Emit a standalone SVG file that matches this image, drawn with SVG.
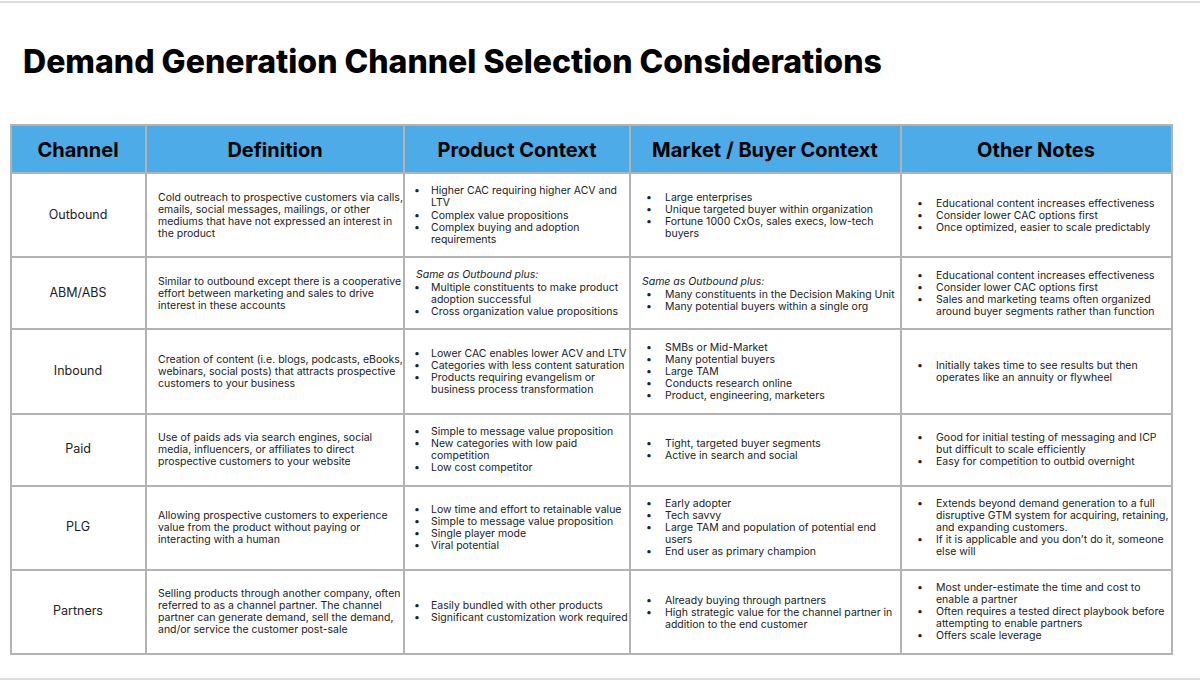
<svg xmlns="http://www.w3.org/2000/svg" width="1200" height="681" viewBox="0 0 1200 681">
<style>
.t{font-family:Inter,"Liberation Sans",sans-serif;font-size:10.5px;fill:#222}
.c{font-family:Inter,"Liberation Sans",sans-serif;font-size:12.5px;fill:#222;text-anchor:middle}
.h{font-family:Inter,"Liberation Sans",sans-serif;font-size:20px;font-weight:700;fill:#000;text-anchor:middle}
.i{font-style:italic}
.g{stroke:#b3b3b3;stroke-width:2;fill:none}
</style>
<rect width="1200" height="681" fill="#fff"/>
<line x1="0" y1="2" x2="1200" y2="2" stroke="#ddd" stroke-width="2"/>
<line x1="0" y1="679" x2="1200" y2="679" stroke="#ddd" stroke-width="2"/>
<text x="23" y="73" font-family="Inter,'Liberation Sans',sans-serif" font-size="32" font-weight="800" fill="#000">Demand Generation Channel Selection Considerations</text>
<g id="header">
<rect x="11" y="125" width="1161" height="48" fill="#4dabe8"/>
<text class="h" x="78" y="157">Channel</text>
<text class="h" x="275" y="157">Definition</text>
<text class="h" x="517" y="157">Product Context</text>
<text class="h" x="765" y="157">Market / Buyer Context</text>
<text class="h" x="1036" y="157">Other Notes</text>
</g>
<g id="grid" class="g">
<rect x="11" y="125" width="1161" height="529"/>
<path d="M146 125V654M404 125V654M630 125V654M901 125V654M11 173H1172M11 257H1172M11 329H1172M11 414H1172M11 486H1172M11 570H1172"/>
</g>
<g id="outbound">
<text class="c" x="78" y="219">Outbound</text>
<text class="t"><tspan x="158" y="201">Cold outreach to prospective customers via calls,</tspan><tspan x="158" y="213">emails, social messages, mailings, or other</tspan><tspan x="158" y="225">mediums that have not expressed an interest in</tspan><tspan x="158" y="237">the product</tspan></text>
<text class="t"><tspan x="414" y="194">•</tspan><tspan x="431" y="194">Higher CAC requiring higher ACV and</tspan><tspan x="431" y="206">LTV</tspan><tspan x="414" y="219">•</tspan><tspan x="431" y="219">Complex value propositions</tspan><tspan x="414" y="231">•</tspan><tspan x="431" y="231">Complex buying and adoption</tspan><tspan x="431" y="243">requirements</tspan></text>
<text class="t"><tspan x="646" y="201">•</tspan><tspan x="665" y="201">Large enterprises</tspan><tspan x="646" y="213">•</tspan><tspan x="665" y="213">Unique targeted buyer within organization</tspan><tspan x="646" y="225">•</tspan><tspan x="665" y="225">Fortune 1000 CxOs, sales execs, low-tech</tspan><tspan x="665" y="237">buyers</tspan></text>
<text class="t"><tspan x="917" y="207">•</tspan><tspan x="936" y="207">Educational content increases effectiveness</tspan><tspan x="917" y="219">•</tspan><tspan x="936" y="219">Consider lower CAC options first</tspan><tspan x="917" y="231">•</tspan><tspan x="936" y="231">Once optimized, easier to scale predictably</tspan></text>
</g>
<g id="abm">
<text class="c" x="78" y="297">ABM/ABS</text>
<text class="t"><tspan x="158" y="285">Similar to outbound except there is a cooperative</tspan><tspan x="158" y="297">effort between marketing and sales to drive</tspan><tspan x="158" y="309">interest in these accounts</tspan></text>
<text class="t"><tspan class="i" x="416" y="278">Same as Outbound plus:</tspan><tspan x="414" y="291">•</tspan><tspan x="431" y="291">Multiple constituents to make product</tspan><tspan x="431" y="303">adoption successful</tspan><tspan x="414" y="315">•</tspan><tspan x="431" y="315">Cross organization value propositions</tspan></text>
<text class="t"><tspan class="i" x="642" y="285">Same as Outbound plus:</tspan><tspan x="646" y="298">•</tspan><tspan x="665" y="298">Many constituents in the Decision Making Unit</tspan><tspan x="646" y="310">•</tspan><tspan x="665" y="310">Many potential buyers within a single org</tspan></text>
<text class="t"><tspan x="917" y="279">•</tspan><tspan x="936" y="279">Educational content increases effectiveness</tspan><tspan x="917" y="291">•</tspan><tspan x="936" y="291">Consider lower CAC options first</tspan><tspan x="917" y="303">•</tspan><tspan x="936" y="303">Sales and marketing teams often organized</tspan><tspan x="936" y="315">around buyer segments rather than function</tspan></text>
</g>
<g id="inbound">
<text class="c" x="78" y="375">Inbound</text>
<text class="t"><tspan x="158" y="363">Creation of content (i.e. blogs, podcasts, eBooks,</tspan><tspan x="158" y="375">webinars, social posts) that attracts prospective</tspan><tspan x="158" y="387">customers to your business</tspan></text>
<text class="t"><tspan x="414" y="357">•</tspan><tspan x="431" y="357">Lower CAC enables lower ACV and LTV</tspan><tspan x="414" y="369">•</tspan><tspan x="431" y="369">Categories with less content saturation</tspan><tspan x="414" y="381">•</tspan><tspan x="431" y="381">Products requiring evangelism or</tspan><tspan x="431" y="393">business process transformation</tspan></text>
<text class="t"><tspan x="646" y="351">•</tspan><tspan x="665" y="351">SMBs or Mid-Market</tspan><tspan x="646" y="363">•</tspan><tspan x="665" y="363">Many potential buyers</tspan><tspan x="646" y="375">•</tspan><tspan x="665" y="375">Large TAM</tspan><tspan x="646" y="387">•</tspan><tspan x="665" y="387">Conducts research online</tspan><tspan x="646" y="399">•</tspan><tspan x="665" y="399">Product, engineering, marketers</tspan></text>
<text class="t"><tspan x="917" y="369">•</tspan><tspan x="936" y="369">Initially takes time to see results but then</tspan><tspan x="936" y="381">operates like an annuity or flywheel</tspan></text>
</g>
<g id="paid">
<text class="c" x="78" y="453">Paid</text>
<text class="t"><tspan x="158" y="441">Use of paids ads via search engines, social</tspan><tspan x="158" y="453">media, influencers, or affiliates to direct</tspan><tspan x="158" y="465">prospective customers to your website</tspan></text>
<text class="t"><tspan x="414" y="435">•</tspan><tspan x="431" y="435">Simple to message value proposition</tspan><tspan x="414" y="447">•</tspan><tspan x="431" y="447">New categories with low paid</tspan><tspan x="431" y="459">competition</tspan><tspan x="414" y="471">•</tspan><tspan x="431" y="471">Low cost competitor</tspan></text>
<text class="t"><tspan x="646" y="447">•</tspan><tspan x="665" y="447">Tight, targeted buyer segments</tspan><tspan x="646" y="459">•</tspan><tspan x="665" y="459">Active in search and social</tspan></text>
<text class="t"><tspan x="917" y="441">•</tspan><tspan x="936" y="441">Good for initial testing of messaging and ICP</tspan><tspan x="936" y="453">but difficult to scale efficiently</tspan><tspan x="917" y="465">•</tspan><tspan x="936" y="465">Easy for competition to outbid overnight</tspan></text>
</g>
<g id="plg">
<text class="c" x="78" y="531">PLG</text>
<text class="t"><tspan x="158" y="519">Allowing prospective customers to experience</tspan><tspan x="158" y="531">value from the product without paying or</tspan><tspan x="158" y="543">interacting with a human</tspan></text>
<text class="t"><tspan x="414" y="513">•</tspan><tspan x="431" y="513">Low time and effort to retainable value</tspan><tspan x="414" y="525">•</tspan><tspan x="431" y="525">Simple to message value proposition</tspan><tspan x="414" y="537">•</tspan><tspan x="431" y="537">Single player mode</tspan><tspan x="414" y="549">•</tspan><tspan x="431" y="549">Viral potential</tspan></text>
<text class="t"><tspan x="646" y="507">•</tspan><tspan x="665" y="507">Early adopter</tspan><tspan x="646" y="519">•</tspan><tspan x="665" y="519">Tech savvy</tspan><tspan x="646" y="531">•</tspan><tspan x="665" y="531">Large TAM and population of potential end</tspan><tspan x="665" y="543">users</tspan><tspan x="646" y="555">•</tspan><tspan x="665" y="555">End user as primary champion</tspan></text>
<text class="t"><tspan x="917" y="507">•</tspan><tspan x="936" y="507">Extends beyond demand generation to a full</tspan><tspan x="936" y="519">disruptive GTM system for acquiring, retaining,</tspan><tspan x="936" y="531">and expanding customers.</tspan><tspan x="917" y="543">•</tspan><tspan x="936" y="543">If it is applicable and you don’t do it, someone</tspan><tspan x="936" y="555">else will</tspan></text>
</g>
<g id="partners">
<text class="c" x="78" y="615">Partners</text>
<text class="t"><tspan x="158" y="597">Selling products through another company, often</tspan><tspan x="158" y="609">referred to as a channel partner.  The channel</tspan><tspan x="158" y="621">partner can generate demand, sell the demand,</tspan><tspan x="158" y="633">and/or service the customer post-sale</tspan></text>
<text class="t"><tspan x="414" y="609">•</tspan><tspan x="431" y="609">Easily bundled with other products</tspan><tspan x="414" y="621">•</tspan><tspan x="431" y="621">Significant customization work required</tspan></text>
<text class="t"><tspan x="646" y="604">•</tspan><tspan x="665" y="604">Already buying through partners</tspan><tspan x="646" y="616">•</tspan><tspan x="665" y="616">High strategic value for the channel partner in</tspan><tspan x="665" y="628">addition to the end customer</tspan></text>
<text class="t"><tspan x="917" y="591">•</tspan><tspan x="936" y="591">Most under-estimate the time and cost to</tspan><tspan x="936" y="603">enable a partner</tspan><tspan x="917" y="615">•</tspan><tspan x="936" y="615">Often requires a tested direct playbook before</tspan><tspan x="936" y="627">attempting to enable partners</tspan><tspan x="917" y="639">•</tspan><tspan x="936" y="639">Offers scale leverage</tspan></text>
</g>
</svg>
